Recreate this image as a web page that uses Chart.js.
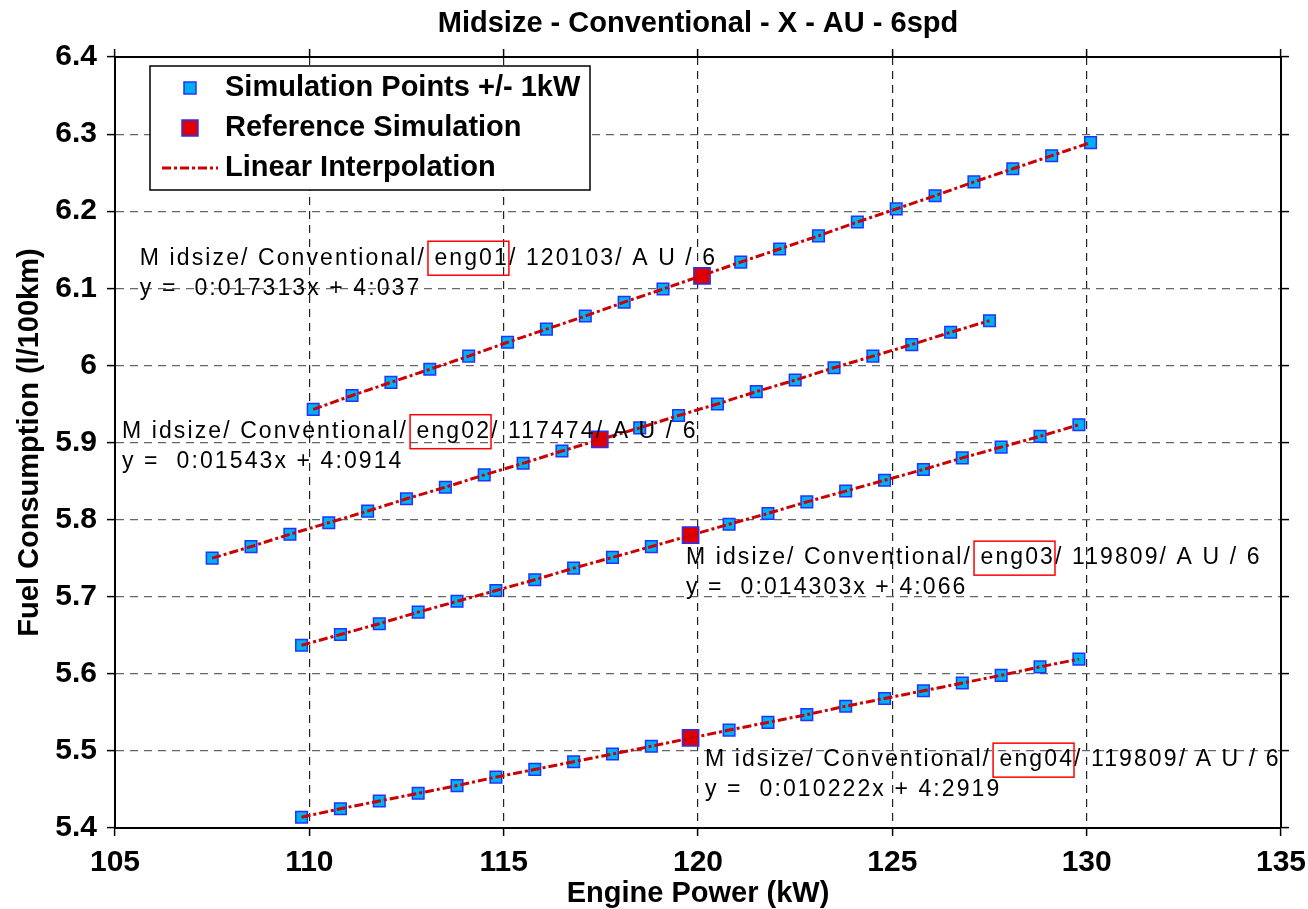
<!DOCTYPE html>
<html>
<head>
<meta charset="utf-8">
<title>Midsize - Conventional - X - AU - 6spd</title>
<script src="https://cdn.jsdelivr.net/npm/chart.js@4.4.0/dist/chart.umd.min.js"></script>
<style>
  html, body { margin: 0; padding: 0; background: #fff; }
</style>
</head>
<body>
<canvas id="fuelChart" width="1308" height="909"></canvas>
<script>
// Datos
const engNames = ['eng01', 'eng02', 'eng03', 'eng04'];
const refLabels = ['120103', '117474', '119809', '119809'];
const eqTexts = [
  'y =  0:017313x + 4:037',
  'y =  0:01543x + 4:0914',
  'y =  0:014303x + 4:066',
  'y =  0:010222x + 4:2919'
];

const eng01Power = [110.1, 111.1, 112.1, 113.1, 114.1, 115.1, 116.1, 117.1, 118.1, 119.1,
                    121.1, 122.1, 123.1, 124.1, 125.1, 126.1, 127.1, 128.1, 129.1, 130.1];
const eng01Fuel = [5.943, 5.961, 5.978, 5.995, 6.012, 6.030, 6.047, 6.064, 6.082, 6.099,
                   6.134, 6.151, 6.168, 6.186, 6.203, 6.220, 6.238, 6.255, 6.272, 6.289];

const eng02Power = [107.5, 108.5, 109.5, 110.5, 111.5, 112.5, 113.5, 114.5, 115.5, 116.5,
                    118.5, 119.5, 120.5, 121.5, 122.5, 123.5, 124.5, 125.5, 126.5, 127.5];
const eng02Fuel = [5.750, 5.765, 5.781, 5.796, 5.811, 5.827, 5.842, 5.858, 5.873, 5.889,
                   5.919, 5.935, 5.950, 5.966, 5.981, 5.997, 6.012, 6.027, 6.043, 6.058];

const eng03Power = [109.8, 110.8, 111.8, 112.8, 113.8, 114.8, 115.8, 116.8, 117.8, 118.8,
                    120.8, 121.8, 122.8, 123.8, 124.8, 125.8, 126.8, 127.8, 128.8, 129.8];
const eng03Fuel = [5.637, 5.651, 5.665, 5.680, 5.694, 5.708, 5.722, 5.737, 5.751, 5.765,
                   5.794, 5.808, 5.823, 5.837, 5.851, 5.865, 5.880, 5.894, 5.908, 5.923];

const eng04Power = [109.8, 110.8, 111.8, 112.8, 113.8, 114.8, 115.8, 116.8, 117.8, 118.8,
                    120.8, 121.8, 122.8, 123.8, 124.8, 125.8, 126.8, 127.8, 128.8, 129.8];
const eng04Fuel = [5.414, 5.425, 5.435, 5.445, 5.455, 5.466, 5.476, 5.486, 5.496, 5.506,
                   5.527, 5.537, 5.547, 5.558, 5.568, 5.578, 5.588, 5.598, 5.609, 5.619];

const refPower = [120.103, 117.474, 119.809, 119.809];
const refFuel = [6.116, 5.904, 5.780, 5.517];

const xTicks = [105, 110, 115, 120, 125, 130, 135];
const yTicks = [5.4, 5.5, 5.6, 5.7, 5.8, 5.9, 6.0, 6.1, 6.2, 6.3, 6.4];

// posição das anotações (em unidades do gráfico)
const noteAnchors = [
  { x: 105.64, y: 6.139 },
  { x: 105.18, y: 5.914 },
  { x: 119.69, y: 5.750 },
  { x: 120.18, y: 5.488 }
];

const FONT = '"Liberation Sans", Arial, sans-serif';
const BLUE_FILL = '#00b0f0';
const BLUE_EDGE = '#2233ff';
const RED_FILL = '#e00000';
const LINE_RED = '#cc0000';
const DASHDOT = [9, 3, 3, 3];

const zip = (xs, ys) => xs.map((v, i) => ({ x: v, y: ys[i] }));
const allPower = [eng01Power, eng02Power, eng03Power, eng04Power];
const allFuel = [eng01Fuel, eng02Fuel, eng03Fuel, eng04Fuel];

const datasets = [];
allPower.forEach((p, i) => {
  datasets.push({
    label: 'Linear Interpolation',
    data: zip(p, allFuel[i]),
    showLine: true,
    borderColor: LINE_RED,
    borderWidth: 3,
    borderDash: DASHDOT,
    pointRadius: 0,
    fill: false,
    order: 0
  });
});
allPower.forEach((p, i) => {
  datasets.push({
    label: 'Simulation Points +/- 1kW',
    data: zip(p, allFuel[i]),
    pointStyle: 'rect',
    pointRadius: 8.2,
    backgroundColor: BLUE_FILL,
    borderColor: BLUE_EDGE,
    borderWidth: 1.5,
    order: 2
  });
});
datasets.push({
  label: 'Reference Simulation',
  data: zip(refPower, refFuel),
  pointStyle: 'rect',
  pointRadius: 11.5,
  backgroundColor: RED_FILL,
  borderColor: BLUE_EDGE,
  borderWidth: 1.5,
  order: 1
});

// Legenda desenhada dentro da área do gráfico
const boxLegend = {
  id: 'boxLegend',
  afterDraw(chart) {
    const { ctx, chartArea } = chart;
    const left = chartArea.left + 35, top = chartArea.top + 9;
    const w = 440, h = 124;
    ctx.save();
    ctx.fillStyle = '#fff';
    ctx.fillRect(left, top, w, h);
    ctx.strokeStyle = '#000';
    ctx.lineWidth = 1.5;
    ctx.strokeRect(left, top, w, h);

    const mx = left + 40;
    const rows = [top + 22, top + 62, top + 102];
    ctx.fillStyle = BLUE_FILL; ctx.strokeStyle = BLUE_EDGE; ctx.lineWidth = 1.5;
    ctx.fillRect(mx - 6, rows[0] - 6, 12, 12);
    ctx.strokeRect(mx - 6, rows[0] - 6, 12, 12);
    ctx.fillStyle = RED_FILL;
    ctx.fillRect(mx - 8, rows[1] - 8, 16, 16);
    ctx.strokeRect(mx - 8, rows[1] - 8, 16, 16);
    ctx.strokeStyle = LINE_RED; ctx.lineWidth = 3; ctx.setLineDash(DASHDOT);
    ctx.beginPath(); ctx.moveTo(mx - 28, rows[2]); ctx.lineTo(mx + 28, rows[2]); ctx.stroke();
    ctx.setLineDash([]);

    ctx.fillStyle = '#000';
    ctx.font = 'bold 29px ' + FONT;
    ctx.textBaseline = 'middle';
    ctx.fillText('Simulation Points +/- 1kW', left + 75, rows[0]);
    ctx.fillText('Reference Simulation', left + 75, rows[1]);
    ctx.fillText('Linear Interpolation', left + 75, rows[2]);
    ctx.restore();
  }
};

// Textos das equações com a caixa vermelha
const notes = {
  id: 'notes',
  afterDraw(chart) {
    const { ctx } = chart;
    const xs = chart.scales.x, ys = chart.scales.y;
    ctx.save();
    ctx.font = '23px ' + FONT;
    ctx.letterSpacing = '2.1px';
    ctx.textBaseline = 'middle';
    noteAnchors.forEach((a, i) => {
      const px = xs.getPixelForValue(a.x);
      const py = ys.getPixelForValue(a.y);
      const head = 'M idsize/ Conventional/';
      const tag = ' ' + engNames[i];
      const tail = '/ ' + refLabels[i] + '/ A U / 6';
      ctx.fillStyle = '#000';
      ctx.fillText(head, px, py);
      const w1 = ctx.measureText(head).width;
      ctx.fillText(tag, px + w1, py);
      const w2 = ctx.measureText(tag).width;
      ctx.fillText(tail, px + w1 + w2, py);
      ctx.strokeStyle = '#ff0000';
      ctx.lineWidth = 1.5;
      ctx.strokeRect(px + w1 + 2, py - 17, w2 - 2, 34);
      ctx.fillText(eqTexts[i], px, py + 30);
    });
    ctx.restore();
  }
};

const gridX = {
  color: '#222',
  lineWidth: 1.2,
  tickLength: 8,
  tickColor: '#000',
  tickWidth: 1.5,
  tickBorderDash: []
};
const gridY = Object.assign({}, gridX, { color: '#666' });

// sem margem extra para os rótulos das extremidades
const noEdgePad = s => { s.paddingLeft = 0; s.paddingRight = 0; };

new Chart(document.getElementById('fuelChart').getContext('2d'), {
  type: 'scatter',
  data: { datasets },
  options: {
    responsive: false,
    animation: false,
    layout: { padding: 0 },
    plugins: {
      legend: { display: false },
      tooltip: { enabled: false },
      title: {
        display: true,
        fullSize: false,
        text: 'Midsize - Conventional - X - AU - 6spd',
        color: '#000',
        font: { family: FONT, size: 29, weight: 'bold' },
        padding: { top: 6.2, bottom: 6 }
      }
    },
    scales: {
      x: {
        type: 'linear', position: 'bottom', min: 105, max: 135,
        afterBuildTicks: s => { s.ticks = xTicks.map(v => ({ value: v })); },
        afterFit: s => { s.height = 81; noEdgePad(s); },
        ticks: {
          color: '#000', padding: 9, maxRotation: 0, autoSkip: false,
          font: { family: FONT, size: 30, weight: 'bold' },
          callback: v => String(v)
        },
        grid: gridX,
        border: { display: true, color: '#000', width: 2, dash: [8, 6] },
        title: {
          display: true, text: 'Engine Power (kW)', color: '#000',
          font: { family: FONT, size: 29, weight: 'bold' },
          padding: { top: 0, bottom: -2 }
        }
      },
      x2: {
        type: 'linear', position: 'top', min: 105, max: 135,
        afterBuildTicks: s => { s.ticks = xTicks.map(v => ({ value: v })); },
        afterFit: s => { s.height = 10; noEdgePad(s); },
        ticks: { display: false },
        grid: Object.assign({}, gridX, { drawOnChartArea: false }),
        border: { display: true, color: '#000', width: 2 }
      },
      y: {
        type: 'linear', position: 'left', min: 5.4, max: 6.4,
        afterBuildTicks: s => { s.ticks = yTicks.map(v => ({ value: v })); },
        afterFit: s => { s.width = 115; },
        ticks: {
          color: '#000', padding: 10,
          font: { family: FONT, size: 30, weight: 'bold' },
          callback: v => String(+v.toFixed(1))
        },
        grid: gridY,
        border: { display: true, color: '#000', width: 2, dash: [8, 6] },
        title: {
          display: true, text: 'Fuel Consumption (l/100km)', color: '#000',
          font: { family: FONT, size: 29, weight: 'bold' },
          padding: { top: 13 }
        }
      },
      y2: {
        type: 'linear', position: 'right', min: 5.4, max: 6.4,
        afterBuildTicks: s => { s.ticks = yTicks.map(v => ({ value: v })); },
        afterFit: s => { s.width = 27; },
        ticks: { display: false },
        grid: Object.assign({}, gridY, { drawOnChartArea: false }),
        border: { display: true, color: '#000', width: 2 }
      }
    }
  },
  plugins: [boxLegend, notes]
});
</script>
</body>
</html>
